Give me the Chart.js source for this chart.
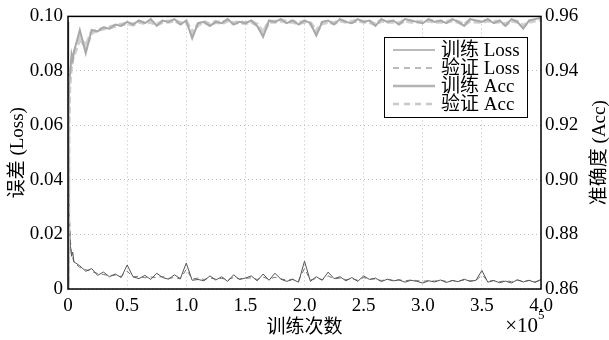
<!DOCTYPE html>
<html>
<head>
    <title>训练误差与准确度</title>
    <script src="https://cdn.jsdelivr.net/npm/chart.js"></script>
    <style>
        html, body { margin: 0; padding: 0; background: #fff; }
        #box { width: 609px; height: 340px; }
    </style>
</head>
<body>
<div id="box">
    <canvas id="myChart" width="609" height="340"></canvas>
</div>
<script>
    // 训练次数 (×10^5)
    const steps = [
        0, 0.005, 0.01, 0.02, 0.03, 0.04, 0.05,
        0.1, 0.15, 0.2, 0.25, 0.3, 0.35, 0.4, 0.45, 0.5, 0.55,
        0.6, 0.65, 0.7, 0.75, 0.8, 0.85, 0.9, 0.95, 1.0, 1.05,
        1.1, 1.15, 1.2, 1.25, 1.3, 1.35, 1.4, 1.45, 1.5, 1.55,
        1.6, 1.65, 1.7, 1.75, 1.8, 1.85, 1.9, 1.95, 2.0, 2.05,
        2.1, 2.15, 2.2, 2.25, 2.3, 2.35, 2.4, 2.45, 2.5, 2.55,
        2.6, 2.65, 2.7, 2.75, 2.8, 2.85, 2.9, 2.95, 3.0, 3.05,
        3.1, 3.15, 3.2, 3.25, 3.3, 3.35, 3.4, 3.45, 3.5, 3.55,
        3.6, 3.65, 3.7, 3.75, 3.8, 3.85, 3.9, 3.95, 4.0
    ];
    const trainLoss = [
        0.098, 0.045, 0.025, 0.016, 0.012, 0.0135, 0.010,
        0.0085, 0.0065, 0.0075, 0.005, 0.0062, 0.0045, 0.0055, 0.0042, 0.0088, 0.0045,
        0.0038, 0.005, 0.0035, 0.0058, 0.0042, 0.0036, 0.0052, 0.0038, 0.0095, 0.0032,
        0.0035, 0.003, 0.0048, 0.0033, 0.0045, 0.0028, 0.0052, 0.0035, 0.004, 0.0048,
        0.003, 0.0055, 0.0032, 0.0058, 0.0036, 0.0028, 0.0035, 0.0025, 0.0102, 0.0028,
        0.0045, 0.0032, 0.0062, 0.0038, 0.0045, 0.003, 0.0042, 0.0028, 0.0048, 0.0035,
        0.004, 0.0027, 0.0036, 0.003, 0.0033, 0.0025, 0.0032, 0.0028, 0.0022, 0.003,
        0.0026, 0.0033, 0.0024, 0.0031, 0.0027, 0.0036, 0.0028, 0.0032, 0.0068, 0.0025,
        0.0031, 0.0023, 0.0029, 0.0022, 0.0034, 0.0026, 0.0032, 0.0024, 0.0035
    ];
    const valLoss = [
        0.094, 0.052, 0.03, 0.018, 0.0125, 0.0115, 0.0098,
        0.0079, 0.0071, 0.0064, 0.0057, 0.0053, 0.0049, 0.0051, 0.0046, 0.0066, 0.0044,
        0.0047, 0.0041, 0.0044, 0.0042, 0.0046, 0.0039, 0.0042, 0.0037, 0.0072, 0.0037,
        0.004, 0.0035, 0.0041, 0.0036, 0.0039, 0.0034, 0.0042, 0.0037, 0.0039, 0.0041,
        0.0035, 0.0044, 0.0036, 0.0043, 0.0037, 0.0033, 0.0036, 0.0031, 0.0075, 0.0033,
        0.0039, 0.0035, 0.0048, 0.0037, 0.004, 0.0034, 0.0038, 0.0032, 0.0042, 0.0036,
        0.0037, 0.0031, 0.0035, 0.0032, 0.0034, 0.003, 0.0033, 0.0031, 0.0028, 0.0031,
        0.0029, 0.0032, 0.0028, 0.0031, 0.0029, 0.0033, 0.003, 0.0031, 0.0052, 0.0029,
        0.0031, 0.0027, 0.003, 0.0027, 0.0032, 0.0028, 0.0031, 0.0027, 0.0032
    ];
    const trainAcc = [
        0.86, 0.925, 0.936, 0.94, 0.946, 0.944, 0.947,
        0.955, 0.9465, 0.955, 0.9545, 0.956, 0.9555, 0.957, 0.9565, 0.958, 0.957,
        0.9585, 0.9575, 0.959, 0.9565, 0.9585, 0.958, 0.959, 0.957, 0.9585, 0.952,
        0.9575, 0.958, 0.9565, 0.958, 0.9575, 0.959, 0.957, 0.958, 0.9575, 0.9585,
        0.9565, 0.9525, 0.9585, 0.958, 0.959, 0.9575, 0.9585, 0.957, 0.9585, 0.9575,
        0.953, 0.958, 0.9585, 0.957, 0.959, 0.958, 0.9575, 0.959, 0.958, 0.9585,
        0.9565, 0.959, 0.958, 0.9585, 0.957, 0.959, 0.9585, 0.958, 0.9575, 0.959,
        0.958, 0.9585, 0.9575, 0.959, 0.958, 0.9565, 0.959, 0.9585, 0.958, 0.959,
        0.9575, 0.9585, 0.9565, 0.959, 0.958, 0.9555, 0.9585, 0.959, 0.9595
    ];
    const valAcc = [
        0.862, 0.92, 0.933, 0.939, 0.943, 0.945, 0.946,
        0.952, 0.949, 0.954, 0.955, 0.9555, 0.956, 0.9565, 0.957, 0.9575, 0.957,
        0.958, 0.9575, 0.958, 0.957, 0.958, 0.958, 0.9585, 0.9575, 0.958, 0.954,
        0.957, 0.958, 0.957, 0.958, 0.9575, 0.9585, 0.9575, 0.958, 0.9575, 0.958,
        0.957, 0.954, 0.958, 0.958, 0.9585, 0.958, 0.958, 0.9575, 0.958, 0.9575,
        0.9545, 0.9575, 0.958, 0.9575, 0.9585, 0.958, 0.958, 0.9585, 0.958, 0.958,
        0.957, 0.9585, 0.958, 0.958, 0.9575, 0.9585, 0.958, 0.958, 0.958, 0.9585,
        0.958, 0.958, 0.958, 0.9585, 0.958, 0.957, 0.9585, 0.958, 0.958, 0.9585,
        0.958, 0.958, 0.957, 0.9585, 0.958, 0.9565, 0.958, 0.9585, 0.959
    ];
    const legendLabels = ['训练 Loss', '验证 Loss', '训练 Acc', '验证 Acc'];

    const serif = "'Liberation Serif', 'Noto Sans CJK SC', serif";

    const toPoints = arr => arr.map((v, i) => ({ x: steps[i], y: v }));

    const lineStyles = [
        { color: '#a8a8a8', width: 2, dash: [] },       // 训练 Acc
        { color: '#d0d0d0', width: 4, dash: [7, 3] },   // 验证 Acc
        { color: '#555555', width: 1, dash: [] },       // 训练 Loss
        { color: '#777777', width: 1, dash: [5, 4] }    // 验证 Loss
    ];

    // 框、图例、坐标轴标题
    const decorations = {
        id: 'decorations',
        afterDraw(chart) {
            const { ctx, chartArea: a } = chart;
            ctx.save();
            ctx.strokeStyle = '#000';
            ctx.lineWidth = 1.5;
            ctx.strokeRect(a.left, a.top, a.right - a.left, a.bottom - a.top);

            // 图例
            const lx = 384, ly = 37, lw = 143, lh = 80;
            ctx.fillStyle = '#fff';
            ctx.fillRect(lx, ly, lw, lh);
            ctx.lineWidth = 1;
            ctx.strokeStyle = '#000';
            ctx.strokeRect(lx + 0.5, ly + 0.5, lw, lh);
            const legendStyles = [
                { color: '#777', width: 1, dash: [] },
                { color: '#777', width: 1, dash: [6, 5] },
                { color: '#b4b4b4', width: 2.5, dash: [] },
                { color: '#c8c8c8', width: 2.5, dash: [6, 5] }
            ];
            ctx.font = '19px ' + serif;
            ctx.textBaseline = 'middle';
            ctx.textAlign = 'left';
            legendLabels.forEach((label, i) => {
                const y = ly + 13 + i * 18;
                const s = legendStyles[i];
                ctx.beginPath();
                ctx.setLineDash(s.dash);
                ctx.strokeStyle = s.color;
                ctx.lineWidth = s.width;
                ctx.moveTo(lx + 9, y);
                ctx.lineTo(lx + 51, y);
                ctx.stroke();
                ctx.setLineDash([]);
                ctx.fillStyle = '#000';
                ctx.fillText(label, lx + 57, y + 1);
            });

            // 轴标题
            ctx.fillStyle = '#000';
            ctx.textAlign = 'center';
            ctx.font = '19px ' + serif;
            const midY = (a.top + a.bottom) / 2;
            ctx.save();
            ctx.translate(18, midY);
            ctx.rotate(-Math.PI / 2);
            ctx.fillText('误差 (Loss)', 0, 0);
            ctx.restore();
            ctx.save();
            ctx.translate(600, midY);
            ctx.rotate(-Math.PI / 2);
            ctx.fillText('准确度 (Acc)', 0, 0);
            ctx.restore();

            ctx.fillText('训练次数', (a.left + a.right) / 2, 328);

            ctx.textAlign = 'right';
            ctx.font = '21px ' + serif;
            ctx.fillText('×10', 538, 326);
            ctx.textAlign = 'left';
            ctx.font = '13px ' + serif;
            ctx.fillText('5', 538, 316);
            ctx.restore();
        }
    };

    const tickFont = { family: serif, size: 19 };

    const ctx = document.getElementById('myChart').getContext('2d');
    const myChart = new Chart(ctx, {
        type: 'line',
        data: {
            datasets: [
                { label: '训练 Acc', data: toPoints(trainAcc), yAxisID: 'yR' },
                { label: '验证 Acc', data: toPoints(valAcc), yAxisID: 'yR' },
                { label: '训练 Loss', data: toPoints(trainLoss), yAxisID: 'yL' },
                { label: '验证 Loss', data: toPoints(valLoss), yAxisID: 'yL' }
            ].map((d, i) => Object.assign(d, {
                borderColor: lineStyles[i].color,
                borderWidth: lineStyles[i].width,
                borderDash: lineStyles[i].dash,
                pointRadius: 0,
                tension: 0,
                fill: false
            }))
        },
        options: {
            responsive: false,
            animation: false,
            layout: { padding: { top: 12, left: 0, right: 0, bottom: 0 } },
            plugins: {
                legend: { display: false },
                tooltip: { enabled: false }
            },
            scales: {
                x: {
                    type: 'linear',
                    min: 0,
                    max: 4,
                    ticks: { stepSize: 0.5, font: tickFont, color: '#000', padding: 6, maxRotation: 0 },
                    grid: { color: '#bdbdbd', drawTicks: false },
                    border: { display: false, dash: [1, 3] },
                    afterFit: s => { s.height = 51; }
                },
                yL: {
                    position: 'left',
                    min: 0,
                    max: 0.1,
                    ticks: {
                        stepSize: 0.02, font: tickFont, color: '#000', padding: 5,
                        callback: v => v === 0 ? '0' : v.toFixed(2)
                    },
                    grid: { color: '#bdbdbd', drawTicks: false },
                    border: { display: false, dash: [1, 3] },
                    afterFit: s => { s.width = 68; }
                },
                yR: {
                    position: 'right',
                    min: 0.86,
                    max: 0.96,
                    ticks: {
                        stepSize: 0.02, font: tickFont, color: '#000', padding: 4,
                        callback: v => v.toFixed(2)
                    },
                    grid: { display: false, drawTicks: false },
                    border: { display: false },
                    afterFit: s => { s.width = 68; }
                }
            }
        },
        plugins: [decorations]
    });
</script>
</body>
</html>
